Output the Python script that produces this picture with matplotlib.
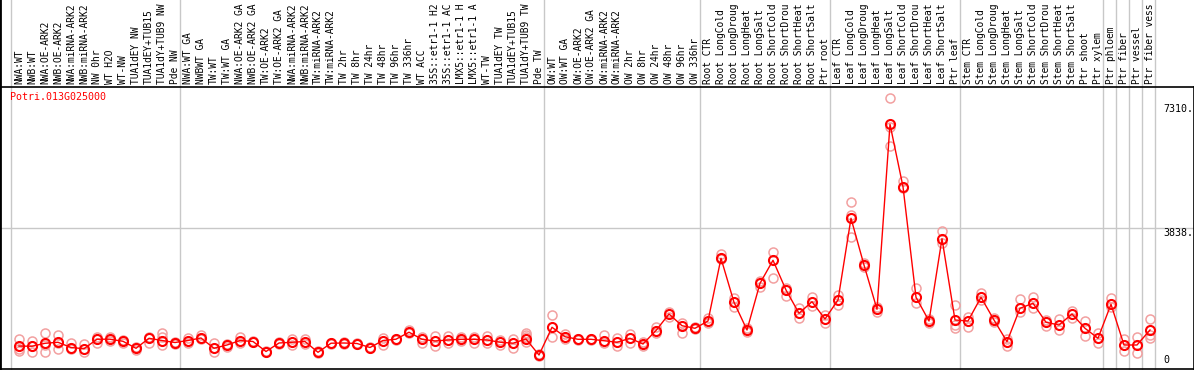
#!/usr/bin/env python3
"""Expression profile of Potri.013G025000 across poplar samples."""

import matplotlib

matplotlib.use("Agg")
import matplotlib.pyplot as plt
from matplotlib.transforms import blended_transform_factory

GENE = "Potri.013G025000"

# sample names as printed above the columns (the chart cuts them at 14 chars)
SAMPLES = [
    "NWA:WT", "NWB:WT", "NWA:OE-ARK2", "NWB:OE-ARK2", "NWA:miRNA-ARK2",
    "NWB:miRNA-ARK2", "NW 0hr", "WT H2O", "WT-NW", "TUA1dEY NW",
    "TUA1dEY+TUB15", "TUA1dY+TUB9 NW", "Pde NW",
    "NWA:WT GA", "NWBWT GA", "TW:WT", "TW:WT GA", "NWA:OE-ARK2 GA",
    "NWB:OE-ARK2 GA", "TW:OE-ARK2", "TW:OE-ARK2 GA", "NWA:miRNA-ARK2",
    "NWB:miRNA-ARK2", "TW:miRNA-ARK2", "TW:miRNA-ARK2", "TW 2hr", "TW 8hr",
    "TW 24hr", "TW 48hr", "TW 96hr", "TW 336hr", "WT ACC", "35S::etr1-1 H2",
    "35S::etr1-1 AC", "LMX5::etr1-1 H", "LMX5::etr1-1 A", "WT-TW",
    "TUA1dEY TW", "TUA1dEY+TUB15", "TUA1dY+TUB9 TW", "Pde TW",
    "OW:WT", "OW:WT GA", "OW:OE-ARK2", "OW:OE-ARK2 GA", "OW:miRNA-ARK2",
    "OW:miRNA-ARK2", "OW 2hr", "OW 8hr", "OW 24hr", "OW 48hr", "OW 96hr",
    "OW 336hr",
    "Root CTR", "Root LongCold", "Root LongDroug", "Root LongHeat",
    "Root LongSalt", "Root ShortCold", "Root ShortDrou", "Root ShortHeat",
    "Root ShortSalt", "Ptr root",
    "Leaf CTR", "Leaf LongCold", "Leaf LongDroug", "Leaf LongHeat",
    "Leaf LongSalt", "Leaf ShortCold", "Leaf ShortDrou", "Leaf ShortHeat",
    "Leaf ShortSalt", "Ptr leaf",
    "Stem CTR", "Stem LongCold", "Stem LongDroug", "Stem LongHeat",
    "Stem LongSalt", "Stem ShortCold", "Stem ShortDrou", "Stem ShortHeat",
    "Stem ShortSalt", "Ptr shoot", "Ptr xylem",
    "Ptr phloem", "Ptr fiber", "Ptr vessel", "Ptr fiber vess",
]

MEANS = [
    530, 525, 608, 636, 490, 456, 722, 722, 664, 468, 748, 686, 630,
    686, 756, 468, 560, 686, 658, 378, 616, 636, 658, 356, 610, 616, 602,
    490, 686, 722, 918, 720, 672, 700, 720, 720, 700, 638, 610, 728, 280,
    1056, 792, 720, 720, 680, 636, 748, 588, 966, 1428, 1100, 1028,
    1232, 2988, 1756, 980, 2288, 2932, 2100, 1448, 1772, 1288,
    1820, 4108, 2800, 1560, 6740, 4992, 1896, 1232, 3536, 1260,
    1232, 1896, 1260, 652, 1588, 1728, 1196, 1120, 1428, 1028, 748,
    1700, 560, 560, 980,
]

REPLICATES = [
    [728, 460, 400], [672, 530, 372], [888, 560, 372], [840, 630, 440],
    [624, 440], [588, 356], [776, 624], [776, 680], [700, 608], [512, 420],
    [776, 624], [888, 792, 560], [652, 588],
    [748, 608], [840, 720], [608, 372], [588, 512], [776, 608], [680, 640],
    [400, 360], [640, 590], [720, 560], [720, 588], [380, 340], [630, 590],
    [640, 600], [620, 580], [510, 470], [748, 560], [740, 700], [980, 888],
    [776, 624], [812, 532], [812, 624], [776, 680], [792, 624], [812, 624],
    [700, 560], [720, 468], [888, 840, 792, 652], [300, 260],
    [1400, 792], [868, 720], [740, 700], [740, 700], [840, 608], [748, 532],
    [868, 624], [652, 532], [1056, 888], [1492, 1336], [1184, 888],
    [1060, 1000],
    [1308, 1168], [3100, 2968], [1884, 1632], [1028, 932], [2352, 2192],
    [3172, 2444], [2148, 1940], [1604, 1324], [1912, 1660], [1400, 1168],
    [1960, 1680], [4572, 4200, 3592], [2848, 2752], [1632, 1492],
    [7468, 6672, 6132], [5160, 4948], [2148, 1744], [1280, 1184],
    [3752, 3408], [1680, 1120, 1028],
    [1336, 1072], [2008, 1820], [1308, 1212], [720, 532], [1848, 1492],
    [1912, 1588], [1260, 1092], [1280, 980], [1520, 1308], [1240, 812],
    [888, 608], [1868, 1632], [720, 400], [792, 328], [1280, 840, 748],
]

# last sample index of each block that gets a grey separator after it
GROUP_ENDS = [-1, 12, 40, 52, 62, 72, 83, 84, 85, 86, 87]
Y_TICKS = [7310, 3838, 0]

W, H = 1194, 370
PLOT_TOP, PLOT_BOTTOM = 87, 369  # pixel rows of the plot frame
RED = "#ff0000"
PINK = "#f2a0a0"
GRID = "#c8c8c8"
FONT = "DejaVu Sans Mono"
FS = 6.9


def main() -> int:
    fig = plt.figure(figsize=(W / 100, H / 100), dpi=100)
    ax = fig.add_axes([0, (H - PLOT_BOTTOM) / H, 1, (PLOT_BOTTOM - PLOT_TOP) / H])

    step = 13.0
    ax.set_xlim(-19 / step, (W - 19) / step)
    ax.set_ylim(-112, 7784)
    ax.set_xticks([])
    ax.set_yticks([])
    for spine in ax.spines.values():
        spine.set_color("black")
        spine.set_linewidth(1.2)

    over = PLOT_BOTTOM / (PLOT_BOTTOM - PLOT_TOP)  # reach the top of the figure
    for end in GROUP_ENDS:
        ax.axvline(end + 0.4, ymin=0, ymax=over, color=GRID, lw=1, clip_on=False, zorder=1)
    ax.axhline(3838, color=GRID, lw=1, zorder=1)
    ax.axvline(ax.get_xlim()[0], ymin=0, ymax=over, color="black", lw=2, clip_on=False)

    xs = list(range(len(SAMPLES)))
    for x, reps in zip(xs, REPLICATES):
        ax.plot([x] * len(reps), reps, "o", ms=6.5, mfc="none", mec=PINK, mew=1.1, zorder=2)
    ax.plot(xs, MEANS, "-", color=RED, lw=1, zorder=3)
    ax.plot(xs, MEANS, "o", ms=6.5, mfc="none", mec=RED, mew=1.5, zorder=4)

    label_tr = blended_transform_factory(ax.transData, fig.transFigure)
    for x, name in zip(xs, SAMPLES):
        ax.text(x, (H - 84) / H, name, transform=label_tr, rotation=90,
                ha="center", va="bottom", family=FONT, fontsize=FS,
                color="black", clip_on=False)

    ax.text(10 / W, 0.965, GENE, transform=ax.transAxes, ha="left", va="center",
            family=FONT, fontsize=7.2, color=RED)

    tick_x = (1163 - 19) / step
    for val in Y_TICKS:
        text = f"{val}." if val else "0"
        ax.text(tick_x, val, text, ha="left", va="top" if val else "bottom",
                family=FONT, fontsize=7.2, color="black")

    fig.savefig("out.png", dpi=100)
    plt.close(fig)
    return 0


if __name__ == "__main__":
    raise SystemExit(main())
